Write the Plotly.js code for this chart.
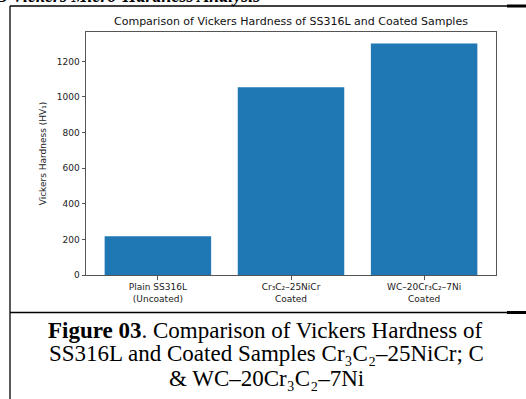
<!DOCTYPE html>
<html>
<head>
<meta charset="utf-8">
<script src="https://cdn.plot.ly/plotly-3.0.1.min.js"></script>
<style>
html,body{margin:0;padding:0;background:#fff;}
#chart{width:526px;height:399px;}
</style>
</head>
<body>
<div id="chart"></div>
<script>
const categories = ["Plain SS316L<br>(Uncoated)", "Cr₃C₂–25NiCr<br>Coated", "WC–20Cr₃C₂–7Ni<br>Coated"];
const hardness = [217, 1055, 1300];
const yTicks = [0, 200, 400, 600, 800, 1000, 1200];
const chartTitle = "Comparison of Vickers Hardness of SS316L and Coated Samples";
const yTitle = "Vickers Hardness (HV₁)";
const captionLines = [
  "<b>Figure 03</b>. Comparison of Vickers Hardness of",
  "SS316L and Coated Samples Cr₃C₂–25NiCr; C",
  "& WC–20Cr₃C₂–7Ni"
];
const headingText = "<b><i>4.3 Vickers Micro-Hardness Analysis</i></b>";

// page geometry (pixels) -> paper coordinates
const W = 526, H = 399;
const L = 86, R = 496, T = 32, B = 275;
const px = x => (x - L) / (R - L);
const py = y => (B - y) / (B - T);

const trace = {
  type: "bar",
  x: [0, 1, 2],
  y: hardness,
  marker: {color: "#1f77b4"},
  width: 0.8,
  hoverinfo: "skip"
};

const lineStyle = {color: "#000", width: 1.3};
const shapes = [
  {type: "line", xref: "paper", yref: "paper", x0: px(10), x1: px(526), y0: py(6), y1: py(6), line: lineStyle},
  {type: "line", xref: "paper", yref: "paper", x0: px(507), x1: px(526), y0: py(6), y1: py(6), line: {color: "#000", width: 3}},
  {type: "line", xref: "paper", yref: "paper", x0: px(10), x1: px(10), y0: py(6), y1: py(399), line: lineStyle},
  {type: "line", xref: "paper", yref: "paper", x0: px(10), x1: px(507), y0: py(312.5), y1: py(312.5), line: lineStyle},
  {type: "line", xref: "paper", yref: "paper", x0: px(507), x1: px(526), y0: py(312.5), y1: py(312.5), line: {color: "#000", width: 3}}
];

const capFont = {family: "Liberation Serif", size: 23, color: "#000"};
const annotations = [
  {xref: "paper", yref: "paper", x: px(291), y: py(22), text: chartTitle, showarrow: false,
   xanchor: "center", yanchor: "middle", font: {family: "DejaVu Sans", size: 11, color: "#111"}},
  {xref: "paper", yref: "paper", x: px(265), y: py(330), text: captionLines[0], showarrow: false,
   xanchor: "center", yanchor: "middle", font: capFont},
  {xref: "paper", yref: "paper", x: px(266), y: py(353), text: captionLines[1], showarrow: false,
   xanchor: "center", yanchor: "middle", font: capFont},
  {xref: "paper", yref: "paper", x: px(266), y: py(378), text: captionLines[2], showarrow: false,
   xanchor: "center", yanchor: "middle", font: capFont},
  {xref: "paper", yref: "paper", x: px(262), y: py(7.5), text: headingText, showarrow: false,
   xanchor: "right", yanchor: "bottom", font: {family: "Liberation Serif", size: 18, color: "#000"}}
];

const layout = {
  width: W, height: H,
  margin: {l: L, r: W - R, t: T, b: H - B, pad: 0},
  paper_bgcolor: "#fff", plot_bgcolor: "#fff",
  showlegend: false,
  xaxis: {
    range: [-0.54, 2.54],
    tickmode: "array", tickvals: [0, 1, 2], ticktext: categories,
    ticks: "outside", ticklen: 3.5, tickcolor: "#555", tickwidth: 1,
    showline: true, mirror: true, linecolor: "#555", linewidth: 1,
    showgrid: false, zeroline: false, fixedrange: true,
    tickfont: {family: "DejaVu Sans", size: 9, color: "#222"}
  },
  yaxis: {
    range: [0, 1365],
    tickmode: "array", tickvals: yTicks,
    ticks: "outside", ticklen: 3.5, tickcolor: "#555", tickwidth: 1,
    showline: true, mirror: true, linecolor: "#555", linewidth: 1,
    showgrid: false, zeroline: false, fixedrange: true,
    tickfont: {family: "DejaVu Sans", size: 9, color: "#222"},
    title: {text: yTitle, font: {family: "DejaVu Sans", size: 9, color: "#222"}, standoff: 8}
  },
  shapes: shapes,
  annotations: annotations
};

Plotly.newPlot("chart", [trace], layout, {displayModeBar: false, staticPlot: true});
</script>
</body>
</html>
